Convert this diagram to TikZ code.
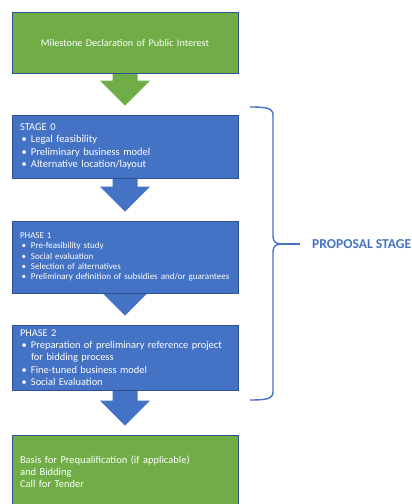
\documentclass[tikz,border=0pt]{standalone}
\usepackage{fontspec}
\setmainfont{Carlito}
\usetikzlibrary{calc,backgrounds}
\definecolor{ppgreen}{HTML}{70AD47}
\definecolor{ppblue}{HTML}{4472C4}
\definecolor{ppline}{HTML}{2F528F}
\newcommand\itm{\makebox[11pt][l]{\hspace{1.5pt}\textbullet}}

\begin{document}
\begin{tikzpicture}[x=1pt, y=1pt,
    box/.style={draw=ppline, line width=0.6pt, text=white, text width=210pt, inner xsep=8pt, inner ysep=0pt, align=left},
    greenbox/.style={box, fill=ppgreen},
    bluebox/.style={box, fill=ppblue}]
    \useasboundingbox (0,0) rectangle (412,504);
    \clip (0,0) rectangle (412,504);

    % milestones and stages
    \node(top)[greenbox, align=center, minimum height=61pt, font=\fontsize{10.2}{12}\selectfont] at (125,461.5) {Milestone Declaration of Public Interest};
    \node(s0)[bluebox, minimum height=63pt, font=\fontsize{10.5}{12.6}\selectfont] at (125,357.5)
        {STAGE 0\\ \itm Legal feasibility\\ \itm Preliminary business model\\ \itm Alternative location/layout};
    \node(p1)[bluebox, minimum height=72pt, font=\fontsize{9}{10.3}\selectfont] at (125,247)
        {PHASE 1\\ \itm Pre-feasibility study\\ \itm Social evaluation\\ \itm Selection of alternatives\\ \itm Preliminary definition of subsidies and/or guarantees\\[4pt]};
    \node(p2)[bluebox, minimum height=65pt, font=\fontsize{10.4}{12.3}\selectfont] at (125,146.5)
        {PHASE 2\\ \itm Preparation of preliminary reference project\\ \hspace*{11pt}for bidding process\\ \itm Fine-tuned business model\\ \itm Social Evaluation};
    \node(bot)[greenbox, minimum height=73pt, font=\fontsize{10.5}{11.7}\selectfont] at (125,32.5)
        {Basis for Prequalification (if applicable)\\ and Bidding\\ Call for Tender};

    % block arrows
    \begin{scope}[on background layer]
        \foreach \a/\b/\c in {top/s0/ppgreen, s0/p1/ppblue, p1/p2/ppblue, p2/bot/ppblue}
        {\path(\b.north)++(0,9)coordinate(tip)++(0,25)coordinate(hb);
        \fill[\c]($(\a.south)+(-12.5,3)$)--($(hb)+(-12.5,0)$)--($(hb)+(-25,0)$)--(tip)
            --($(hb)+(25,0)$)--($(hb)+(12.5,0)$)--($(\a.south)+(12.5,3)$)--cycle;}
    \end{scope}

    % brace
    \node(lbl)[anchor=west, inner sep=0pt, text=ppblue, font=\fontsize{13.6}{15}\selectfont\bfseries] at (312,260) {PROPOSAL STAGE};
    \coordinate(bt) at ($(lbl.west)+(-12,0)$);
    \draw[ppblue, line width=1.4pt, line join=round]
        (250,397)..controls(266,397)and(273,396)..(273,389)--(273,268)
        ..controls(273,262)and(276,260)..(282,260)
        ..controls(276,260)and(273,258)..(273,252)--(273,112)
        ..controls(273,105)and(266,104)..(250,104);
    \draw[ppblue, line width=1.4pt](282,260)--(bt);
\end{tikzpicture}
\end{document}
